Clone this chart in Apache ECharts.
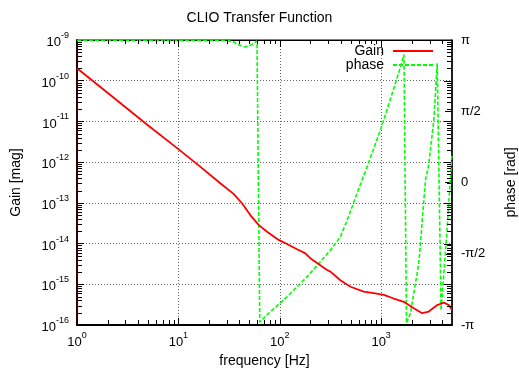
<!DOCTYPE html>
<html>
<head>
<meta charset="utf-8">
<script src="https://cdn.jsdelivr.net/npm/echarts@6/dist/echarts.min.js"></script>
<style>
html, body { margin: 0; padding: 0; background: #fff; }
#main { width: 519px; height: 374px; }
</style>
</head>
<body>
<div id="main"></div>
<script>
// gain curve (frequency in Hz, magnitude)
var freqGain = [1, 2, 5, 10, 16.4, 25.9, 35, 42.4, 51.2, 61.8, 75, 97.5, 118, 148, 179, 200, 251, 293, 316, 396, 498, 673, 845, 1061, 1333, 1672, 2100, 2540, 2950, 3575, 4155, 4650, 5000];
var gainMag = [2.02e-10, 5.05e-11, 8.07e-12, 2.09e-12, 7.76e-13, 3.02e-13, 1.66e-13, 9.77e-14, 5.01e-14, 2.88e-14, 1.95e-14, 1.23e-14, 9.77e-15, 7.24e-15, 5.75e-15, 4.37e-15, 2.95e-15, 2.24e-15, 2.04e-15, 1.26e-15, 8.71e-16, 6.61e-16, 6.03e-16, 5.50e-16, 4.47e-16, 3.72e-16, 2.57e-16, 1.95e-16, 2.14e-16, 3.09e-16, 3.55e-16, 3.09e-16, 2.34e-16];

// phase curve (frequency in Hz, radians, wrapped)
var freqPhase = [1, 10, 30, 35, 40, 44, 50, 55, 59.6, 62, 63.5, 74.8, 118, 186, 251, 316, 396, 462, 649, 728, 985, 1236, 1552, 1680, 1778, 1949, 2100, 2354, 2446, 2542, 2741, 2950, 3311, 3574, 3900, 4450, 5000];
var phaseRad = [3.13, 3.13, 3.13, 3.10, 3.03, 2.99, 3.01, 3.06, 3.12, 3.14, -3.08, -2.92, -2.52, -2.08, -1.75, -1.49, -1.20, -0.83, 0.06, 0.35, 1.16, 1.84, 2.55, 2.82, -3.10, -2.88, -2.44, -1.78, -1.34, -0.83, 0.06, 0.40, 1.38, 2.63, -2.82, -1.10, 0.64];

// axis tick values
var phaseTickLabels = ['-\u03c0', '-\u03c0/2', '0', '\u03c0/2', '\u03c0'];
var tickMantissas = [2, 3, 4, 5, 6, 7, 8, 9];
var xDecades = [1, 10, 100, 1000];
var yDecades = [1e-16, 1e-15, 1e-14, 1e-13, 1e-12, 1e-11, 1e-10];
var X_MIN = 1, X_MAX = 5000, Y_MIN = 1e-16, Y_MAX = 1e-9;

var FONT = '"Liberation Sans", Arial, sans-serif';

function zip(xs, ys) {
    var out = [];
    for (var i = 0; i < xs.length; i++) out.push([xs[i], ys[i]]);
    return out;
}

// minor tick values (2..9 in each decade) inside the axis range
var xMinor = [], yMinor = [];
xDecades.forEach(function (d) {
    tickMantissas.forEach(function (m) { if (d * m < X_MAX) xMinor.push([d * m, Y_MIN]); });
});
yDecades.forEach(function (d) {
    tickMantissas.forEach(function (m) { yMinor.push([X_MIN, d * m, 1]); });
    if (d > Y_MIN) yMinor.push([X_MIN, d, 0]);
});

// 10^n labels for log axes
function powLabel(v) {
    var e = Math.round(Math.log(v) / Math.LN10);
    return '{b|10}{s|' + e + '}';
}
var powRich = {
    b: { fontSize: 13, lineHeight: 18, verticalAlign: 'bottom', color: '#000', fontFamily: FONT },
    s: { fontSize: 9, lineHeight: 18, verticalAlign: 'top', color: '#000', fontFamily: FONT }
};

function tickLine(x1, y1, x2, y2) {
    return { type: 'line', shape: { x1: x1, y1: y1, x2: x2, y2: y2 }, style: { stroke: '#000', lineWidth: 1 } };
}

var myChart = echarts.init(document.getElementById('main'));

var option = {
    animation: false,
    backgroundColor: '#fff',
    textStyle: { fontFamily: FONT },
    title: {
        text: 'CLIO Transfer Function',
        left: 'center',
        top: 6,
        textStyle: { fontSize: 14, fontWeight: 'normal', color: '#000', fontFamily: FONT }
    },
    legend: [{
        data: ['Gain'],
        orient: 'vertical',
        align: 'right',
        right: 85,
        top: 44,
        padding: 0,
        itemWidth: 40,
        itemHeight: 12,
        itemStyle: { opacity: 0 },
        textStyle: { fontSize: 14, color: '#000', fontFamily: FONT, padding: [0, 4, 0, 0] }
    }, {
        data: ['phase'],
        orient: 'vertical',
        align: 'right',
        right: 85,
        top: 58,
        padding: 0,
        itemWidth: 40,
        itemHeight: 12,
        itemStyle: { opacity: 0 },
        textStyle: { fontSize: 14, color: '#000', fontFamily: FONT, padding: [0, 4, 0, 0] }
    }],
    grid: {
        left: 77, right: 67, top: 40, bottom: 49,
        containLabel: false,
        outerBoundsMode: 'none',
        show: true, borderColor: '#000', borderWidth: 1
    },
    xAxis: [{
        type: 'log',
        logBase: 10,
        min: X_MIN,
        max: X_MAX,
        splitNumber: 4,
        position: 'bottom',
        name: 'frequency [Hz]',
        nameLocation: 'middle',
        nameGap: 26,
        nameTextStyle: { fontSize: 14, color: '#000', fontFamily: FONT },
        axisLine: { show: true, onZero: false, lineStyle: { color: '#000', width: 2 } },
        axisTick: { show: true, inside: true, length: 7, lineStyle: { color: '#000' } },
        axisLabel: { formatter: powLabel, rich: powRich, margin: 6, showMaxLabel: false },
        splitLine: { show: true, lineStyle: { color: '#666', type: [1, 2], width: 1 } }
    }, {
        type: 'log',
        logBase: 10,
        min: X_MIN,
        max: X_MAX,
        splitNumber: 4,
        position: 'top',
        axisLine: { show: true, onZero: false, lineStyle: { color: '#000', width: 1 } },
        axisTick: { show: true, inside: true, length: 7, lineStyle: { color: '#000' } },
        axisLabel: { show: false },
        splitLine: { show: false }
    }],
    yAxis: [{
        type: 'log',
        logBase: 10,
        min: Y_MIN,
        max: Y_MAX,
        splitNumber: 7,
        position: 'left',
        name: 'Gain [mag]',
        nameLocation: 'middle',
        nameGap: 54,
        nameRotate: 90,
        nameTextStyle: { fontSize: 14, color: '#000', fontFamily: FONT },
        axisLine: { show: true, onZero: false, lineStyle: { color: '#330000', width: 2 } },
        axisTick: { show: true, inside: true, length: 7, lineStyle: { color: '#000' } },
        axisLabel: { formatter: powLabel, rich: powRich, margin: 8 },
        splitLine: { show: true, lineStyle: { color: '#666', type: [1, 2], width: 1 } }
    }, {
        type: 'value',
        min: -Math.PI,
        max: Math.PI,
        interval: Math.PI / 2,
        position: 'right',
        name: 'phase [rad]',
        nameLocation: 'middle',
        nameGap: 52,
        nameRotate: 90,
        nameTextStyle: { fontSize: 14, color: '#000', fontFamily: FONT },
        axisLine: { show: true, onZero: false, lineStyle: { color: '#000', width: 1.5 } },
        axisTick: { show: true, inside: true, length: 7, lineStyle: { color: '#000' } },
        axisLabel: {
            margin: 9,
            fontSize: 13,
            color: '#000',
            fontFamily: FONT,
            formatter: function (v) {
                var k = Math.round(v / (Math.PI / 2)) + 2;
                return phaseTickLabels[k];
            }
        },
        splitLine: { show: false }
    }],
    series: [{
        name: 'Gain',
        type: 'line',
        xAxisIndex: 0,
        yAxisIndex: 0,
        symbol: 'none',
        lineStyle: { color: '#ff0000', width: 1.8 },
        itemStyle: { color: '#ff0000' },
        data: zip(freqGain, gainMag),
        z: 3
    }, {
        name: 'phase',
        type: 'line',
        xAxisIndex: 0,
        yAxisIndex: 1,
        symbol: 'none',
        lineStyle: { color: '#00ff00', width: 1.6, type: [4, 2] },
        itemStyle: { color: '#00ff00' },
        data: zip(freqPhase, phaseRad),
        z: 2
    }, {
        // minor x ticks on bottom and top borders
        type: 'custom',
        xAxisIndex: 0,
        yAxisIndex: 0,
        z: 10,
        data: xMinor,
        renderItem: function (params, api) {
            var b = api.coord([api.value(0), Y_MIN]);
            var t = api.coord([api.value(0), Y_MAX]);
            var x = Math.round(b[0]) + 0.5;
            return { type: 'group', children: [
                tickLine(x, b[1] - 1, x, b[1] - 5),
                tickLine(x, t[1], x, t[1] + 4)
            ] };
        }
    }, {
        // minor y ticks on the left, mirrored log ticks on the right
        type: 'custom',
        xAxisIndex: 0,
        yAxisIndex: 0,
        z: 10,
        data: yMinor,
        renderItem: function (params, api) {
            var l = api.coord([X_MIN, api.value(1)]);
            var r = api.coord([X_MAX, api.value(1)]);
            var y = Math.round(l[1]) + 0.5;
            var minor = api.value(2) > 0;
            var kids = [tickLine(r[0] - 1, y, r[0] - (minor ? 5 : 8), y)];
            if (minor) kids.push(tickLine(l[0] + 1, y, l[0] + 5, y));
            return { type: 'group', children: kids };
        }
    }]
};

myChart.setOption(option);
</script>
</body>
</html>
